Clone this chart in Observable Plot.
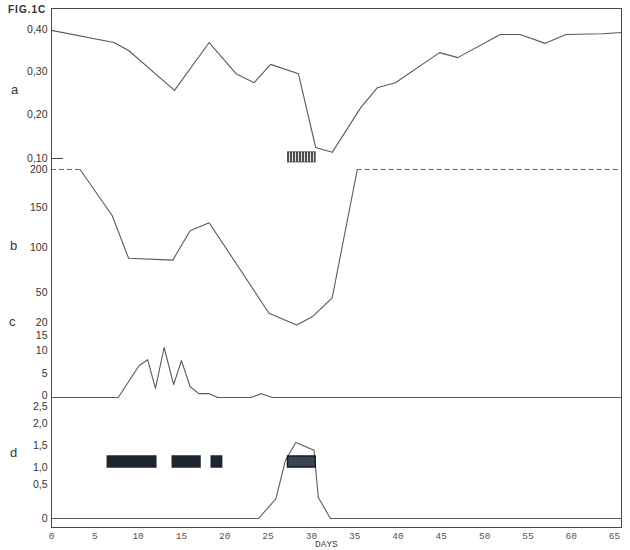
<!DOCTYPE html>
<html><head><meta charset="utf-8">
<script src="https://cdn.jsdelivr.net/npm/d3@7"></script>
<script src="https://cdn.jsdelivr.net/npm/@observablehq/plot@0.6"></script>
<style>
body{margin:0;background:#fff;}
#chart{position:relative;width:630px;height:550px;font-family:"Liberation Sans",Arial,sans-serif;color:#333;}
#chart svg{position:absolute;left:0;top:0;}
.lbl{position:absolute;font-size:12px;line-height:12px;color:#333;}
</style></head><body><div id="chart"></div>
<script>
// ---- data ----
const xTicks = [0,5,10,15,20,25,30,35,40,45,50,55,60,65];

const aDays   = [0, 7.2, 8.9, 14.2, 18.2, 21.3, 23.4, 25.3, 28.5, 30.5, 32.4, 35.7, 37.6, 39.7, 44.8, 46.9, 51.8, 54.1, 57.0, 59.4, 63.6, 65.8];
const aValues = [0.398,0.369,0.350,0.256,0.369,0.295,0.274,0.317,0.295,0.125,0.114,0.216,0.262,0.274,0.345,0.333,0.388,0.388,0.367,0.388,0.390,0.393];
const aTicks  = [0.10, 0.20, 0.30, 0.40];
const aBarStart = [27.3], aBarEnd = [30.5], aBarLow = [0.091], aBarHigh = [0.114];

const bDays   = [3.3, 7.0, 8.9, 14.0, 16.0, 18.2, 25.1, 28.3, 30.1, 32.4, 35.3];
const bValues = [200, 140, 88, 86, 121, 131, 27, 14, 23, 44, 200];
const bDashStart = [0, 35.3], bDashEnd = [3.3, 65.8], bDashValue = 200;
const bTicks  = [50, 100, 150, 200];

const cDays   = [0, 7.7, 10.1, 11.1, 12.0, 13.0, 14.1, 15.0, 16.0, 17.0, 18.2, 19.2, 23.0, 24.2, 25.5, 65.8];
const cValues = [0, 0, 6.7, 8.0, 1.9, 11.0, 2.7, 7.8, 2.3, 0.8, 0.8, 0, 0, 0.8, 0, 0];
const cTicks  = [0, 5, 10, 15, 20];

const dDays   = [0, 23.9, 25.9, 27.0, 28.2, 30.3, 30.8, 32.2, 65.8];
const dValues = [0, 0, 0.29, 1.16, 1.57, 1.39, 0.31, 0, 0];
const dTicks  = [0, 0.5, 1.0, 1.5, 2.0, 2.5];
const dBarStart = [6.5, 14.0, 18.5, 27.3], dBarEnd = [12.1, 17.2, 19.7, 30.5];
const dBarLow = 1.0, dBarHigh = 1.25;

// ---- helpers ----
const toRows = (xs, ys) => xs.map((x, i) => ({day: x, v: ys[i]}));
const comma = (digits) => (d) => d === 0 ? "0" : d.toFixed(digits).replace(".", ",");
const W = 630, H = 550;
const common = {
  width: W, height: H, marginLeft: 51, marginRight: 9, marginTop: 8, marginBottom: 23,
  style: {background: "transparent", fontFamily: "'Liberation Sans', Arial, sans-serif", fontSize: "10.5px", color: "#333", overflow: "visible"}
};
const xOpt = (axis) => ({type: "linear", domain: [0, 65.8], axis});
const lineStyle = {stroke: "#5a5a5a", strokeWidth: 1.1};

const chart = document.getElementById("chart");

// Panel a
const aPlot = Plot.plot({
  ...common,
  x: xOpt(null),
  y: {type: "linear", domain: aTicks, range: [158, 114, 71, 29]},
  marks: [
    Plot.axisY({ticks: aTicks, tickFormat: comma(2), tickSize: 0, tickPadding: 4, label: null}),
    Plot.axisY({ticks: [aTicks[0]], tickFormat: () => "", tickSize: -12, label: null, stroke: "#444"}),
    Plot.line(toRows(aDays, aValues), {x: "day", y: "v", ...lineStyle}),
    Plot.rect(aBarStart.map((s, i) => ({s, e: aBarEnd[i], lo: aBarLow[i], hi: aBarHigh[i]})),
      {x1: "s", x2: "e", y1: "lo", y2: "hi", fill: "url(#hatch)", stroke: "#444", strokeWidth: 0.8})
  ]
});
// hatch pattern
const defs = d3.select(aPlot).insert("defs", ":first-child");
const pat = defs.append("pattern").attr("id", "hatch").attr("patternUnits", "userSpaceOnUse")
  .attr("width", 3).attr("height", 12);
pat.append("rect").attr("width", 3).attr("height", 12).attr("fill", "#4d4d4d");
pat.append("line").attr("x1", 1.5).attr("x2", 1.5).attr("y1", 0).attr("y2", 12).attr("stroke", "#e6e6e6").attr("stroke-width", 1);
chart.appendChild(aPlot);

// Panel b
const bPlot = Plot.plot({
  ...common,
  x: xOpt(null),
  y: {type: "linear", domain: bTicks, range: [292, 247, 207, 169]},
  marks: [
    Plot.axisY({ticks: bTicks, tickSize: 0, tickPadding: 4, label: null}),
    Plot.line(toRows(bDays, bValues), {x: "day", y: "v", ...lineStyle}),
    Plot.ruleY(bDashStart.map((s, i) => ({s, e: bDashEnd[i], v: bDashValue})),
      {x1: "s", x2: "e", y: "v", stroke: "#666", strokeWidth: 1, strokeDasharray: "5,3"})
  ]
});
chart.appendChild(bPlot);

// Panel c
const cPlot = Plot.plot({
  ...common,
  x: xOpt(null),
  y: {type: "linear", domain: cTicks, range: [397, 373, 350, 335, 322]},
  marks: [
    Plot.axisY({ticks: cTicks.slice(1), tickSize: 0, tickPadding: 4, label: null}),
    Plot.axisY({ticks: [cTicks[0]], tickSize: 0, tickPadding: 4, label: null, dy: -2}),
    Plot.line(toRows(cDays, cValues), {x: "day", y: "v", ...lineStyle})
  ]
});
chart.appendChild(cPlot);

// Panel d
const dPlot = Plot.plot({
  ...common,
  x: xOpt(undefined),
  y: {type: "linear", domain: dTicks, range: [518, 484, 467, 445, 423, 406]},
  marks: [
    Plot.frame({stroke: "#4a4a4a", strokeWidth: 1}),
    Plot.axisY({ticks: dTicks, tickFormat: comma(1), tickSize: 0, tickPadding: 4, label: null}),
    Plot.axisX({ticks: xTicks, tickSize: 0, tickPadding: 5, label: null,
      fontFamily: "'Liberation Mono', 'DejaVu Sans Mono', monospace", fontSize: 9.5, fill: "#555"}),
    Plot.line(toRows(dDays, dValues), {x: "day", y: "v", ...lineStyle}),
    Plot.rect(dBarStart.map((s, i) => ({s, e: dBarEnd[i], lo: dBarLow, hi: dBarHigh, last: i === dBarStart.length - 1})),
      {x1: "s", x2: "e", y1: "lo", y2: "hi",
       fill: d => d.last ? "#3b4654" : "#1d2531",
       stroke: d => d.last ? "#151a22" : "#1d2531", strokeWidth: 1.5})
  ]
});
chart.appendChild(dPlot);

// text labels
function addLabel(text, left, top, extra = {}) {
  const el = document.createElement("div");
  el.className = "lbl";
  el.textContent = text;
  el.style.left = left + "px";
  el.style.top = top + "px";
  Object.assign(el.style, extra);
  chart.appendChild(el);
}
addLabel("FIG.1C", 8, 4, {fontWeight: "bold", fontSize: "10px", letterSpacing: "1px"});
addLabel("a", 11, 84, {fontSize: "13px"});
addLabel("b", 10, 240, {fontSize: "13px"});
addLabel("c", 9, 316, {fontSize: "13px"});
addLabel("d", 10, 447, {fontSize: "13px"});
addLabel("DAYS", 315, 540, {fontFamily: "'Liberation Mono', monospace", fontSize: "9.5px", lineHeight: "9px", color: "#444"});
</script>
</body></html>
